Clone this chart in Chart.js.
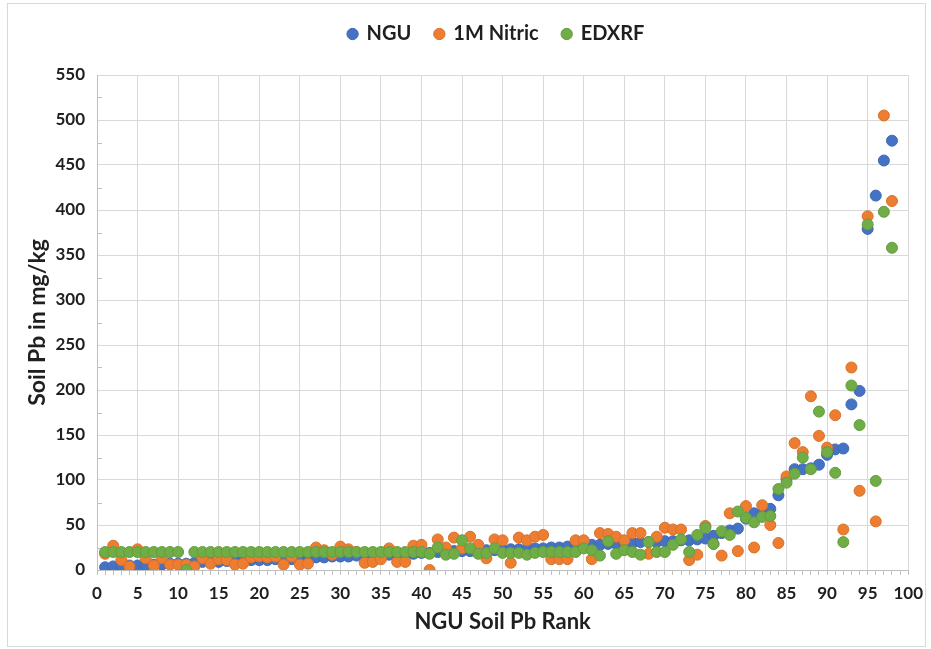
<!DOCTYPE html>
<html><head><meta charset="utf-8">
<script src="https://cdn.jsdelivr.net/npm/chart.js@4.4.1/dist/chart.umd.min.js"></script>
<style>
html,body{margin:0;padding:0;background:#fff;overflow:hidden}
#wrap{position:relative;width:931px;height:649px}
#frame{position:absolute;left:7px;top:3px;width:917px;height:642px;border:1px solid #d9d9d9;pointer-events:none}
</style></head>
<body><div id="wrap"><canvas id="c" width="931" height="649"></canvas><div id="frame"></div></div>
<script>
const ranks = [1,2,3,4,5,6,7,8,9,10,11,12,13,14,15,16,17,18,19,20,21,22,23,24,25,26,27,28,29,30,31,32,33,34,35,36,37,38,39,40,41,42,43,44,45,46,47,48,49,50,51,52,53,54,55,56,57,58,59,60,61,62,63,64,65,66,67,68,69,70,71,72,73,74,75,76,77,78,79,80,81,82,83,84,85,86,87,88,89,90,91,92,93,94,95,96,97,98];
const ngu = [3,4,4,5,5,5,6,6,7,7,7,8,9,9,9,10,10,10,11,11,11,12,12,12,13,13,14,14,15,15,15,16,16,16,17,17,17,18,18,19,19,20,20,21,21,21,22,22,22,23,23,23,24,24,24,25,25,26,26,27,28,28,29,29,30,30,31,31,31,32,32,33,33,34,35,38,41,44,46,57,63,64,68,83,101,112,112,113,117,128,134,135,184,199,379,416,455,477];
const nitric = [18,27,11,4,23,13,5,13,6,6,6,4,13,7,12,11,6,7,14,15,14,15,6,15,6,7,25,22,17,26,23,20,8,9,12,24,9,9,27,28,0,34,25,36,24,37,28,13,34,33,8,36,33,37,39,12,12,12,33,33,12,41,40,37,33,41,41,18,37,47,45,45,11,17,49,29,16,63,21,71,25,72,50,30,104,141,131,193,149,136,172,45,225,88,393,54,505,410];
const edxrf = [20,20,20,20,20,20,20,20,20,20,0,20,20,20,20,20,20,20,20,20,20,20,20,20,20,20,20,20,20,20,20,20,20,20,20,20,20,20,20,20,18,25,17,18,33,24,18,19,24,19,19,19,17,19,20,20,20,20,20,24,22,16,32,18,22,20,17,31,20,20,28,34,20,39,47,29,43,39,65,58,53,59,60,90,97,107,125,112,176,131,108,31,205,161,384,99,398,358];
const seriesNames = ['NGU', '1M Nitric', 'EDXRF'];
const xTickLabels = [0,5,10,15,20,25,30,35,40,45,50,55,60,65,70,75,80,85,90,95,100];
const yTickLabels = [0,50,100,150,200,250,300,350,400,450,500,550];

const toPts = arr => ranks.map((r, i) => ({x: r, y: arr[i]}));
const FONT = 'Lato, "Open Sans", sans-serif';
const TXT = '#1f1f1f';

const styling = {
  id: 'styling',
  afterInit(chart) {
    const lg = chart.legend;
    if (lg && !lg._patched) {
      const orig = lg.fit.bind(lg);
      lg.fit = function () { orig(); this.height += 21; };
      lg._patched = true;
    }
  },
  afterLayout(chart) {
    const lg = chart.legend;
    if (lg) { lg.left += 36; lg.right += 36; }
  },
  beforeDatasetsDraw(chart) {
    const y = chart.scales.y, ctx = chart.ctx;
    ctx.save();
    ctx.strokeStyle = '#bfbfbf';
    ctx.lineWidth = 1;
    for (let i = 0; i < yTickLabels.length - 1; i++) {
      const v = (yTickLabels[i] + yTickLabels[i + 1]) / 2;
      const py = Math.round(y.getPixelForValue(v)) + 0.5;
      ctx.beginPath();
      ctx.moveTo(y.right, py);
      ctx.lineTo(y.right + 5, py);
      ctx.stroke();
    }
    ctx.restore();
  }
};

new Chart(document.getElementById('c'), {
  type: 'scatter',
  data: {
    datasets: [
      {label: seriesNames[0], data: toPts(ngu), backgroundColor: '#4472C4', borderColor: '#3f69b5', order: 3},
      {label: seriesNames[1], data: toPts(nitric), backgroundColor: '#ED7D31', borderColor: '#d9712b', order: 2},
      {label: seriesNames[2], data: toPts(edxrf), backgroundColor: '#70AD47', borderColor: '#639d3e', order: 1}
    ]
  },
  options: {
    responsive: false,
    animation: false,
    devicePixelRatio: 1,
    elements: {point: {radius: 5.5, borderWidth: 1, hoverRadius: 5.5}},
    layout: {padding: {left: 8, right: 18, top: 0, bottom: 8}},
    plugins: {
      legend: {
        position: 'top',
        labels: {
          usePointStyle: true, pointStyle: 'circle', boxWidth: 8, boxHeight: 8,
          padding: 24, color: TXT, font: {family: FONT, size: 20, weight: 'bold'},
          sort: (a, b) => a.datasetIndex - b.datasetIndex
        }
      },
      tooltip: {enabled: false}
    },
    scales: {
      x: {
        type: 'linear', min: 0, max: 100,
        afterFit: s => { s.height = 71; },
        ticks: {
          stepSize: 1, autoSkip: false, maxRotation: 0, padding: 8,
          color: TXT, font: {family: FONT, size: 17, weight: 'bold'},
          callback: v => xTickLabels.includes(v) ? String(v) : ''
        },
        grid: {
          color: c => (c.tick && xTickLabels.includes(c.tick.value)) ? '#d9d9d9' : 'rgba(0,0,0,0)',
          tickColor: '#bfbfbf', tickLength: 5, drawTicks: true
        },
        border: {color: '#bfbfbf', width: 1},
        title: {display: true, text: 'NGU Soil Pb Rank', color: TXT, padding: {top: 0, bottom: 6},
          font: {family: FONT, size: 22, weight: 'bold'}}
      },
      y: {
        type: 'linear', min: 0, max: 550,
        afterFit: s => { s.width = 89; },
        ticks: {
          stepSize: 50, padding: 12, color: TXT,
          font: {family: FONT, size: 17, weight: 'bold'},
          callback: v => yTickLabels.includes(v) ? String(v) : ''
        },
        grid: {color: '#d9d9d9', drawTicks: false},
        border: {color: '#bfbfbf', width: 1},
        title: {display: true, text: 'Soil Pb in mg/kg', color: TXT, padding: {top: 16, bottom: 0},
          font: {family: FONT, size: 23, weight: 'bold'}}
      }
    }
  },
  plugins: [styling]
});
</script>
</body></html>
